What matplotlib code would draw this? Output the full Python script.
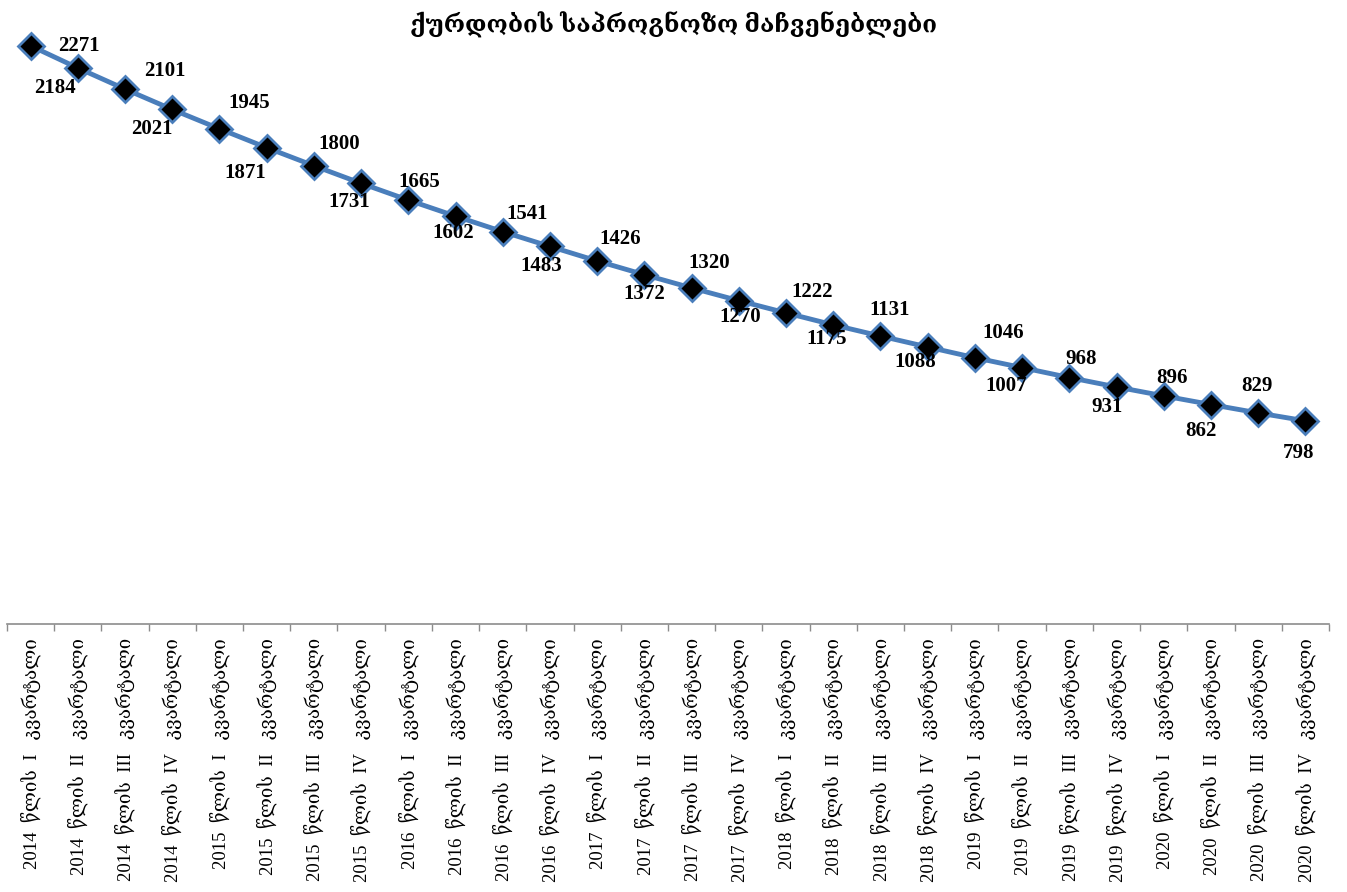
import matplotlib
matplotlib.use("Agg")
import matplotlib.pyplot as plt

# საპროგნოზო მაჩვენებლები კვარტლების მიხედვით
years = [2014, 2015, 2016, 2017, 2018, 2019, 2020]
quarters = ["I", "II", "III", "IV"]
values = [2271, 2184, 2101, 2021, 1945, 1871, 1800, 1731, 1665, 1602,
          1541, 1483, 1426, 1372, 1320, 1270, 1222, 1175, 1131, 1088,
          1046, 1007, 968, 931, 896, 862, 829, 798]

labels = [f"{y}  წლის  {q}   კვარტალი" for y in years for q in quarters]

# data label offsets in pixels (dx, dy; y up), as placed in the original
label_offsets = [(48, 0), (-23, -20), (40, 18), (-20, -20), (30, 26), (-21, -25),
                 (25, 22), (-12, -19), (11, 18), (-2, -17), (24, 18), (-9, -20),
                 (23, 22), (0, -19), (18, 25), (1, -16), (26, 21), (-7, -14),
                 (9, 26), (-12, -15), (28, 25), (-16, -18), (12, 19), (-9, -20),
                 (8, 18), (-10, -26), (-1, 27), (-7, -32)]

serif = ["Liberation Serif", "DejaVu Serif", "DejaVu Sans"]
plt.rcParams["font.family"] = serif

fig = plt.figure(figsize=(13.47, 8.92), dpi=100)
ax = fig.add_axes([7 / 1347, 268 / 892, 1322 / 1347, 624 / 892])

x = list(range(len(values)))
ax.plot(x, values, color="#4A7EBB", linewidth=3.5, marker="D", markersize=13,
        markerfacecolor="black", markeredgecolor="#4A7EBB", markeredgewidth=2,
        zorder=3)

for xi, v, (dx, dy) in zip(x, values, label_offsets):
    ax.annotate(str(v), (xi, v), xytext=(dx, dy), textcoords="offset pixels",
                ha="center", va="center", fontsize=15, fontweight="bold",
                color="black")

ax.set_xlim(-0.5, len(values) - 0.5)
ax.set_ylim(0, 2451)

for s in ["top", "right", "left"]:
    ax.spines[s].set_visible(False)
ax.spines["bottom"].set_color("#8C8C8C")
ax.spines["bottom"].set_linewidth(1.2)
ax.set_yticks([])

ax.set_xticks(x)
ax.set_xticklabels(labels, rotation=90, va="top", ha="center", fontsize=13.5)
ax.tick_params(axis="x", which="major", length=0, pad=10)
ax.set_xticks([i - 0.5 for i in range(len(values) + 1)], minor=True)
ax.tick_params(axis="x", which="minor", length=5, width=1, color="#8C8C8C",
               direction="out")

fig.text(0.5, 1 - 25 / 892, "ქურდობის საპროგნოზო მაჩვენებლები",
         ha="center", va="center", fontsize=17.5, fontweight="bold")

fig.savefig("out.png", dpi=100)
